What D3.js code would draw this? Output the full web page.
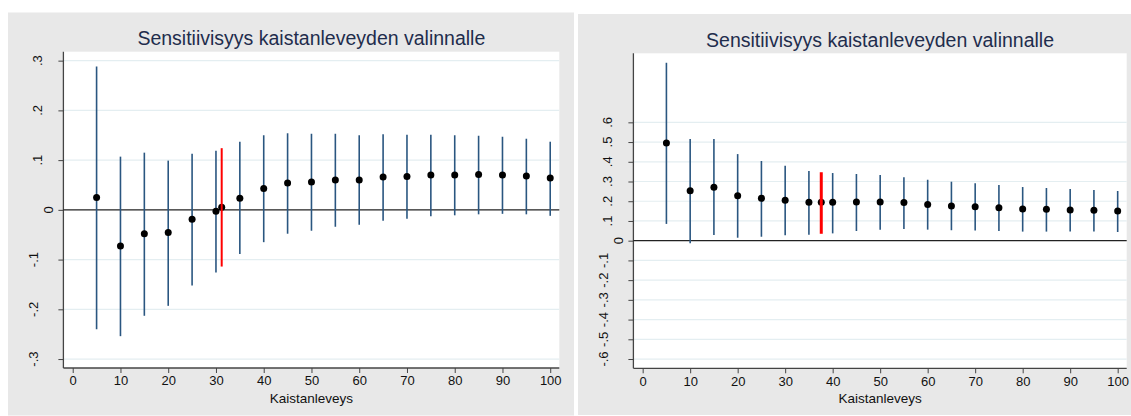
<!DOCTYPE html>
<html>
<head>
<meta charset="utf-8">
<script src="https://cdn.jsdelivr.net/npm/d3@7"></script>
<style>
  body { margin: 0; background: #fff; }
  svg { display: block; font-family: 'Liberation Sans', Arial, sans-serif; }
  .tick-label { font-size: 13px; fill: #111; }
  .title { font-size: 19.5px; fill: #1f2d4d; }
  .xtitle { font-size: 13.5px; fill: #111; }
</style>
</head>
<body>
<div id="chart"></div>
<script>
// bandwidths on the x axis
const bandwidths = [5, 10, 15, 20, 25, 30, 35, 40, 45, 50, 55, 60, 65, 70, 75, 80, 85, 90, 95, 100];
const xTicks = [0, 10, 20, 30, 40, 50, 60, 70, 80, 90, 100];

// left panel: estimate and confidence interval per bandwidth
const leftEst = [0.025, -0.0725, -0.048, -0.0456, -0.019, -0.003, 0.0235, 0.043, 0.054, 0.056, 0.060, 0.060, 0.066, 0.067, 0.070, 0.070, 0.071, 0.070, 0.068, 0.064];
const leftLo = [-0.240, -0.254, -0.213, -0.193, -0.152, -0.126, -0.089, -0.065, -0.048, -0.042, -0.034, -0.030, -0.022, -0.018, -0.013, -0.011, -0.009, -0.008, -0.009, -0.012];
const leftHi = [0.288, 0.107, 0.115, 0.099, 0.113, 0.119, 0.137, 0.150, 0.154, 0.153, 0.153, 0.150, 0.152, 0.151, 0.151, 0.150, 0.149, 0.147, 0.143, 0.137];
// left panel: chosen bandwidth [bandwidth, estimate, lo, hi]
const leftChosen = [31.2, 0.0054, -0.114, 0.124];
const leftYTicks = [-0.3, -0.2, -0.1, 0, 0.1, 0.2, 0.3];

// right panel
const rightEst = [0.495, 0.253, 0.271, 0.228, 0.215, 0.205, 0.195, 0.195, 0.196, 0.196, 0.193, 0.184, 0.176, 0.172, 0.167, 0.161, 0.159, 0.156, 0.154, 0.151];
const rightLo = [0.085, -0.013, 0.029, 0.015, 0.020, 0.027, 0.030, 0.037, 0.049, 0.056, 0.059, 0.056, 0.053, 0.051, 0.049, 0.046, 0.046, 0.046, 0.046, 0.044];
const rightHi = [0.902, 0.515, 0.515, 0.439, 0.404, 0.380, 0.353, 0.343, 0.338, 0.333, 0.321, 0.309, 0.299, 0.291, 0.282, 0.272, 0.267, 0.262, 0.257, 0.252];
const rightChosen = [37.6, 0.195, 0.035, 0.347];
const rightYTicks = [-0.6, -0.5, -0.4, -0.3, -0.2, -0.1, 0, 0.1, 0.2, 0.3, 0.4, 0.5, 0.6];

const titleText = 'Sensitiivisyys kaistanleveyden valinnalle';
const xTitleText = 'Kaistanleveys';

const width = 1131, height = 416;

const svg = d3.select('#chart')
  .append('svg')
    .attr('width', width)
    .attr('height', height);

function fmt(v) {
  // stata style: .1, -.1, 0 (plain hyphen, not the unicode minus)
  if (Math.abs(v) < 1e-9) return '0';
  let s = v.toFixed(1);
  return s.replace('0.', '.');
}

function yLabelOffset(v) {
  if (Math.abs(v) < 1e-9) return 10.5;
  return v < 0 ? 25.5 : 21.5;
}

function panel(opts) {
  let g = svg.append('g');

  g.append('rect')
    .attr('x', opts.box[0])
    .attr('y', opts.box[1])
    .attr('width', opts.box[2])
    .attr('height', opts.box[3])
    .attr('fill', '#e8e8e8');

  let p = opts.plot; // left, top, right, bottom
  g.append('rect')
    .attr('x', p.left)
    .attr('y', p.top)
    .attr('width', p.right - p.left)
    .attr('height', p.bottom - p.top)
    .attr('fill', '#fff');

  let sx = d3.scaleLinear().domain([-1.95, 101.9]).range([p.left, p.right]);
  let sy = d3.scaleLinear().domain(opts.yDomain).range([p.bottom, p.top]);

  // gridlines
  g.append('g')
    .selectAll('line')
    .data(opts.yTicks.filter(d => Math.abs(d) > 1e-9))
    .enter()
    .append('line')
      .attr('x1', p.left)
      .attr('x2', p.right)
      .attr('y1', d => sy(d))
      .attr('y2', d => sy(d))
      .attr('stroke', '#e4eef1')
      .attr('stroke-width', 1.2);

  // y axis: ticks only, labels drawn rotated below
  let yAxis = d3.axisLeft(sy).tickValues(opts.yTicks).tickSize(5).tickFormat('');
  let ya = g.append('g')
    .attr('transform', `translate(${p.left},0)`)
    .call(yAxis);
  ya.select('.domain')
    .attr('d', `M0,${p.top}V${p.bottom}`)
    .attr('stroke', '#444')
    .attr('stroke-width', 1.3);
  ya.selectAll('.tick line').attr('stroke', '#444');

  g.append('g')
    .selectAll('text')
    .data(opts.yTicks)
    .enter()
    .append('text')
      .attr('class', 'tick-label')
      .attr('transform', d => `translate(${p.left - yLabelOffset(d)},${sy(d)}) rotate(-90)`)
      .attr('text-anchor', 'middle')
      .text(fmt);

  // x axis
  let xAxis = d3.axisBottom(sx).tickValues(xTicks).tickSize(5).tickPadding(3);
  let xa = g.append('g')
    .attr('transform', `translate(0,${p.bottom})`)
    .call(xAxis);
  xa.select('.domain')
    .attr('d', `M${p.left},0H${p.right}`)
    .attr('stroke', '#444')
    .attr('stroke-width', 1.3);
  xa.selectAll('.tick line').attr('stroke', '#444');
  xa.selectAll('.tick text')
    .attr('class', 'tick-label')
    .attr('fill', null)
    .style('font-size', '13px')
    .style('font-family', "'Liberation Sans', Arial, sans-serif");

  // zero line
  g.append('line')
    .attr('x1', p.left)
    .attr('x2', p.right)
    .attr('y1', sy(0))
    .attr('y2', sy(0))
    .attr('stroke', '#222')
    .attr('stroke-width', 1.3);

  let rows = bandwidths.map((b, i) => ({x: b, est: opts.est[i], lo: opts.lo[i], hi: opts.hi[i]}));

  g.append('g')
    .selectAll('line')
    .data(rows)
    .enter()
    .append('line')
      .attr('x1', d => sx(d.x))
      .attr('x2', d => sx(d.x))
      .attr('y1', d => sy(d.lo))
      .attr('y2', d => sy(d.hi))
      .attr('stroke', '#2a5680')
      .attr('stroke-width', 1.6);

  let c = opts.chosen;
  let all = rows.concat([{x: c[0], est: c[1]}]);
  g.append('g')
    .selectAll('circle')
    .data(all)
    .enter()
    .append('circle')
      .attr('cx', d => sx(d.x))
      .attr('cy', d => sy(d.est))
      .attr('r', 3.5)
      .attr('fill', '#000');

  g.append('line')
    .attr('x1', sx(c[0]))
    .attr('x2', sx(c[0]))
    .attr('y1', sy(c[2]))
    .attr('y2', sy(c[3]))
    .attr('stroke', '#f00')
    .attr('stroke-width', opts.redWidth);

  let cx = (p.left + p.right) / 2;
  g.append('text')
    .attr('class', 'title')
    .attr('x', cx)
    .attr('y', opts.titleY)
    .attr('text-anchor', 'middle')
    .text(titleText);

  g.append('text')
    .attr('class', 'xtitle')
    .attr('x', cx)
    .attr('y', 403)
    .attr('text-anchor', 'middle')
    .text(xTitleText);
}

panel({
  box: [8, 12.5, 566, 403],
  plot: {left: 63.4, top: 51.7, right: 559.3, bottom: 368},
  yDomain: [-0.318, 0.318],
  yTicks: leftYTicks,
  est: leftEst, lo: leftLo, hi: leftHi,
  chosen: leftChosen,
  redWidth: 2,
  titleY: 45
});

panel({
  box: [578, 14, 553, 401],
  plot: {left: 633.4, top: 53.3, right: 1126.7, bottom: 368.3},
  yDomain: [-0.647, 0.950],
  yTicks: rightYTicks,
  est: rightEst, lo: rightLo, hi: rightHi,
  chosen: rightChosen,
  redWidth: 3,
  titleY: 46.5
});
</script>
</body>
</html>
